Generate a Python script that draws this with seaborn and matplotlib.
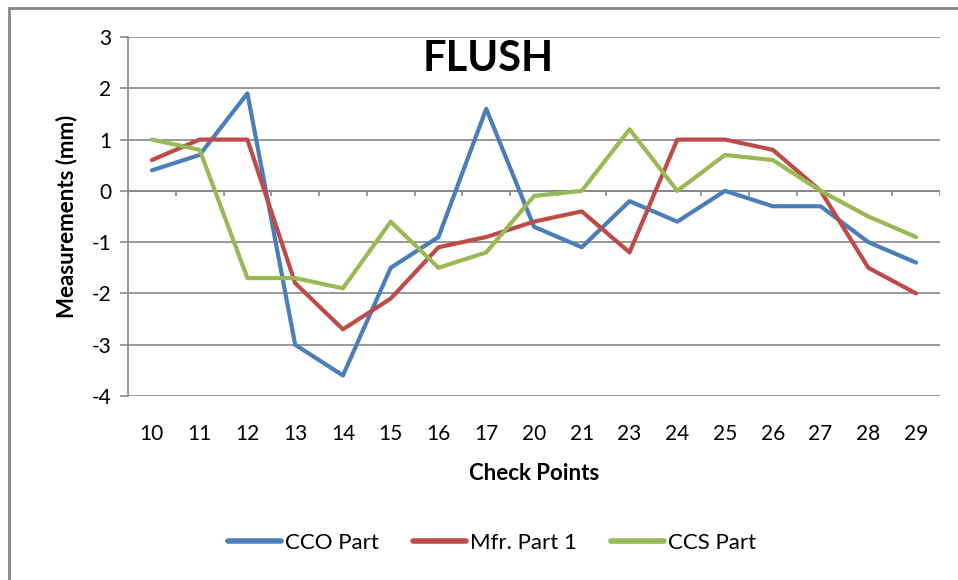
import pandas as pd
import matplotlib.pyplot as plt
import seaborn as sns
from matplotlib.lines import Line2D
from matplotlib.patches import Rectangle

# check points along the part
check_points = ["10", "11", "12", "13", "14", "15", "16", "17", "20",
                "21", "23", "24", "25", "26", "27", "28", "29"]

cco_part = [0.4, 0.7, 1.9, -3.0, -3.6, -1.5, -0.9, 1.6, -0.7,
            -1.1, -0.2, -0.6, 0.0, -0.3, -0.3, -1.0, -1.4]
mfr_part_1 = [0.6, 1.0, 1.0, -1.8, -2.7, -2.1, -1.1, -0.9, -0.6,
              -0.4, -1.2, 1.0, 1.0, 0.8, 0.0, -1.5, -2.0]
ccs_part = [1.0, 0.8, -1.7, -1.7, -1.9, -0.6, -1.5, -1.2, -0.1,
            0.0, 1.2, 0.0, 0.7, 0.6, 0.0, -0.5, -0.9]

series_names = ["CCO Part", "Mfr. Part 1", "CCS Part"]
colors = ["#4A7EBB", "#BE4B48", "#98B954"]
grid_c = "#868686"

df = pd.DataFrame({
    "Check Points": check_points * 3,
    "Measurement": cco_part + mfr_part_1 + ccs_part,
    "Series": [s for s in series_names for _ in check_points],
})

sns.set_style("white")
plt.rcParams["font.family"] = ["Lato", "DejaVu Sans"]
plt.rcParams["axes.unicode_minus"] = False
plt.rcParams["text.color"] = "black"
plt.rcParams["axes.labelcolor"] = "black"
plt.rcParams["xtick.color"] = "black"
plt.rcParams["ytick.color"] = "black"

fig = plt.figure(figsize=(9.58, 5.8), dpi=100)
ax = fig.add_axes([128 / 958, 1 - 396 / 580, (940 - 128) / 958, (396 - 37) / 580])

sns.lineplot(
    data=df, x="Check Points", y="Measurement", hue="Series",
    hue_order=series_names, palette=colors, linewidth=3.0,
    sort=False, legend=False, ax=ax,
)

n = len(check_points)
ax.set_xlim(-0.5, n - 0.5)
ax.set_ylim(-4, 3)
ax.set_yticks(range(-4, 4))

# horizontal grid, no vertical
ax.grid(axis="y", color=grid_c, linewidth=1.2)
ax.grid(axis="x", visible=False)
ax.set_axisbelow(True)
for s in ["top", "right", "bottom"]:
    ax.spines[s].set_visible(False)
ax.spines["left"].set_color(grid_c)
ax.spines["left"].set_linewidth(1.2)

# category axis sits at zero, tick marks on boundaries
ax.axhline(0, color=grid_c, linewidth=1.2, zorder=1)
bounds = [i - 0.5 for i in range(n + 1)]
ax.vlines(bounds, -0.1, 0, color=grid_c, linewidth=1.2, zorder=1)

ax.tick_params(axis="y", left=True, length=6, width=1.2, color=grid_c,
               labelcolor="black", labelsize=15, pad=6)
ax.tick_params(axis="x", bottom=False, length=0, labelcolor="black",
               labelsize=15, pad=20)

ax.set_xlabel("Check Points", fontsize=16, fontweight="bold", labelpad=14)
ax.set_ylabel("Measurements (mm)", fontsize=16, fontweight="bold", labelpad=10)

ax.text(0.444, 0.94, "FLUSH", transform=ax.transAxes, ha="center", va="center",
        fontsize=30, fontweight="bold", color="black")

handles = [Line2D([0], [0], color=c, linewidth=4) for c in colors]
fig.legend(handles, series_names, loc="center", bbox_to_anchor=(492 / 958, 1 - 543 / 580),
           ncol=3, frameon=False, fontsize=16, handlelength=2.4, handletextpad=0.2,
           columnspacing=1.5)

# chart-area border (left and top visible)
fig.patches.append(Rectangle((9 / 958, -0.05), 2.0, 1 - 8 / 580 + 0.05,
                             transform=fig.transFigure, fill=False,
                             edgecolor=grid_c, linewidth=2))

fig.savefig("out.png", dpi=100)
